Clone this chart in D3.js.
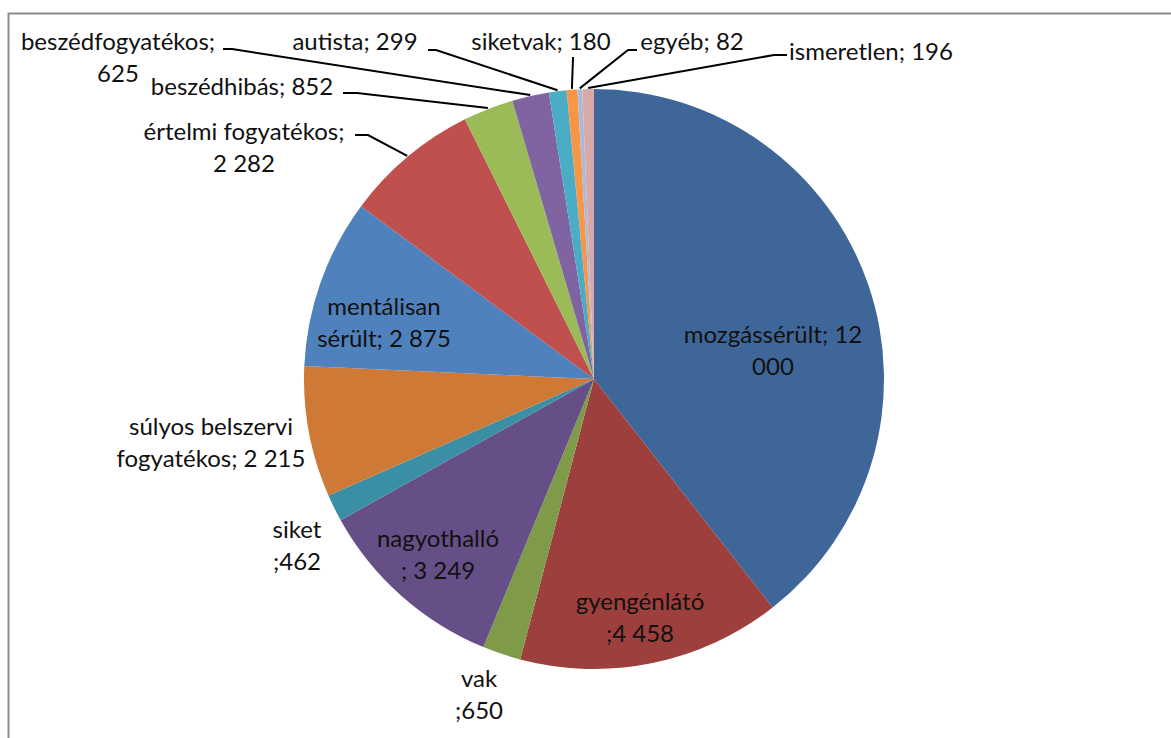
<!DOCTYPE html>
<html>
<head>
<meta charset="utf-8">
<script src="https://cdn.jsdelivr.net/npm/d3@7"></script>
<style>
  body { margin: 0; background: #fff; }
  text { font-family: Lato, "DejaVu Sans", sans-serif; fill: #111; }
</style>
</head>
<body>
<svg id="svg"></svg>
<script>
// categories and values, clockwise from 12 o'clock
var categories = ["mozgássérült", "gyengénlátó", "vak", "nagyothalló", "siket",
    "súlyos belszervi fogyatékos", "mentálisan sérült", "értelmi fogyatékos",
    "beszédhibás", "beszédfogyatékos", "autista", "siketvak", "egyéb", "ismeretlen"];
var values = [12000, 4458, 650, 3249, 462, 2215, 2875, 2282, 852, 625, 299, 180, 82, 196];
var colors = ["#3F6699", "#9D3F3C", "#7F9A48", "#654F86", "#3A8FA5", "#CE7936", "#4F81BD",
    "#C0504D", "#9BBB59", "#8064A2", "#4BACC6", "#F79646", "#AABBD9", "#D9A9A8"];

// label text as it wraps in the picture
var labelLines = [
    ["mozgássérült; 12", "000"],
    ["gyengénlátó", ";4 458"],
    ["vak", ";650"],
    ["nagyothalló", "; 3 249"],
    ["siket", ";462"],
    ["súlyos belszervi", "fogyatékos; 2 215"],
    ["mentálisan", "sérült; 2 875"],
    ["értelmi fogyatékos;", "2 282"],
    ["beszédhibás; 852"],
    ["beszédfogyatékos;", "625"],
    ["autista; 299"],
    ["siketvak; 180"],
    ["egyéb; 82"],
    ["ismeretlen; 196"]
];

// layout: label centre x, first baseline y, and leader stub (null = inside label)
var labelPos = [
    [773, 343, null],
    [640, 610, null],
    [479, 687, null],
    [438, 547, null],
    [297, 538, null],
    [211, 435, null],
    [384, 315, null],
    [244, 140, [355, 135, 368, 135]],
    [242, 95, [343, 93, 357, 93]],
    [118, 50, [223, 49, 232, 49]],
    [355, 50, [428, 50, 436, 50]],
    [541, 50, [573, 57, 573, 58]],
    [692, 50, [637, 50, 628, 50]],
    [871, 60, [787, 55, 774, 55]]
];

var svg = d3.select("#svg")
    .attr("width", window.innerWidth)
    .attr("height", window.innerHeight);

var width = 1171, height = 738;
var cx = 594, cy = 379, radius = 290, lineGap = 32;

// chart border
svg.append("rect")
    .attr("x", 8.5).attr("y", 13.5)
    .attr("width", width + 20).attr("height", height + 20)
    .attr("fill", "#fff")
    .attr("stroke", "#8a8a8a")
    .attr("stroke-width", 2);

var data = categories.map(function(c, i) { return { name: c, value: values[i], i: i }; });

var pie = d3.pie()
    .sort(null)
    .value(function(d) { return d.value; });

var arc = d3.arc().innerRadius(0).outerRadius(radius);
var edge = d3.arc().innerRadius(radius + 1).outerRadius(radius + 1);

var arcs = pie(data);

var g = svg.append("g").attr("transform", "translate(" + cx + "," + cy + ")");

g.selectAll("path.slice")
    .data(arcs)
    .enter().append("path")
    .attr("class", "slice")
    .attr("d", arc)
    .attr("fill", function(d) { return colors[d.data.i]; });

// leader lines
arcs.forEach(function(a) {
    var p = labelPos[a.data.i];
    if (!p[2]) return;
    var c = edge.centroid(a);
    var s = p[2];
    svg.append("polyline")
        .attr("points", [s[0], s[1], s[2], s[3], cx + c[0], cy + c[1]].join(" "))
        .attr("fill", "none")
        .attr("stroke", "#000")
        .attr("stroke-width", 2);
});

// labels
labelLines.forEach(function(lines, i) {
    var p = labelPos[i];
    var t = svg.append("text")
        .attr("text-anchor", "middle")
        .attr("font-size", 24);
    lines.forEach(function(l, k) {
        t.append("tspan")
            .attr("x", p[0])
            .attr("y", p[1] + k * lineGap)
            .text(l);
    });
});
</script>
</body>
</html>
